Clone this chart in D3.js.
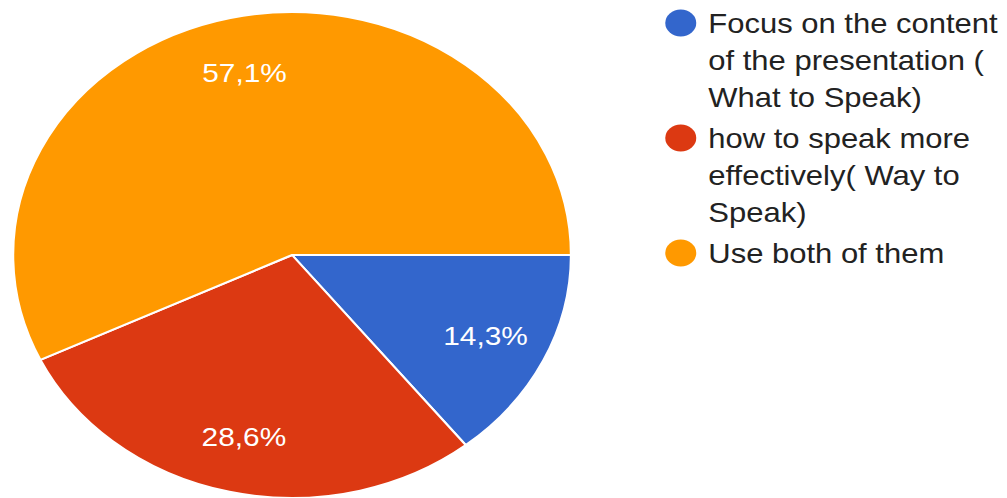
<!DOCTYPE html>
<html>
<head>
<meta charset="utf-8">
<script src="https://cdn.jsdelivr.net/npm/d3@7"></script>
<style>
  html, body { margin: 0; padding: 0; background: #ffffff; }
  svg { display: block; }
  text { font-family: "Liberation Sans", Arial, Helvetica, sans-serif; }
</style>
</head>
<body>
<svg id="chart" width="1007" height="498"></svg>
<script>
// Survey answers and their share of responses (%)
const categories = [
  "Focus on the content of the presentation ( What to Speak)",
  "how to speak more effectively( Way to Speak)",
  "Use both of them"
];
const values = [14.3, 28.6, 57.1];
const valueLabels = ["14,3%", "28,6%", "57,1%"];
const colors = ["#3366cc", "#dc3912", "#ff9900"];

const W = 1007, H = 498;
const stretchX = 1.148;          // the whole chart is drawn slightly widened
const cx = 254.4, cy = 255, radius = 243;

const svg = d3.select("#chart");
const root = svg.append("g").attr("transform", `scale(${stretchX},1)`);

const pie = d3.pie()
  .sort(null)
  .value(d => d)
  .startAngle(Math.PI / 2)
  .endAngle(Math.PI / 2 + 2 * Math.PI);

const arcs = pie(values);
const arc = d3.arc().innerRadius(0).outerRadius(radius);
const labelArc = d3.arc().innerRadius(radius * 0.77).outerRadius(radius * 0.77);

const pieG = root.append("g").attr("transform", `translate(${cx},${cy})`);

pieG.selectAll("path.slice")
  .data(arcs)
  .join("path")
  .attr("class", "slice")
  .attr("d", arc)
  .attr("fill", (d, i) => colors[i])
  .attr("stroke", "#ffffff")
  .attr("stroke-width", 2)
  .attr("stroke-linejoin", "round");

pieG.selectAll("text.pct")
  .data(arcs)
  .join("text")
  .attr("class", "pct")
  .attr("x", d => labelArc.centroid(d)[0])
  .attr("y", d => labelArc.centroid(d)[1])
  .attr("text-anchor", "middle")
  .attr("dy", "0.35em")
  .attr("font-size", 26)
  .attr("fill", "#ffffff")
  .text((d, i) => valueLabels[i]);

// Legend with wrapped entries
const legendX = 593, textX = 617, fontSize = 27, lineH = 37, maxW = 262;
const legend = root.append("g");
let y = 33;   // baseline of the first line of the current entry

categories.forEach((label, i) => {
  const g = legend.append("g");
  const t = g.append("text")
    .attr("x", textX)
    .attr("font-size", fontSize)
    .attr("fill", "#222222");

  const words = label.split(" ");
  let lines = [], line = [];
  const probe = t.append("tspan");
  words.forEach(w => {
    const trial = line.concat([w]).join(" ");
    probe.text(trial);
    if (probe.node().getComputedTextLength() > maxW && line.length) {
      lines.push(line.join(" "));
      line = [w];
    } else {
      line.push(w);
    }
  });
  if (line.length) lines.push(line.join(" "));
  probe.remove();

  lines.forEach((ln, k) => {
    t.append("tspan")
      .attr("x", textX)
      .attr("y", y + k * lineH)
      .text(ln);
  });

  g.append("circle")
    .attr("cx", legendX)
    .attr("cy", y - 10)
    .attr("r", 13.5)
    .attr("fill", colors[i]);

  y += lines.length * lineH + 4;
});
</script>
</body>
</html>
